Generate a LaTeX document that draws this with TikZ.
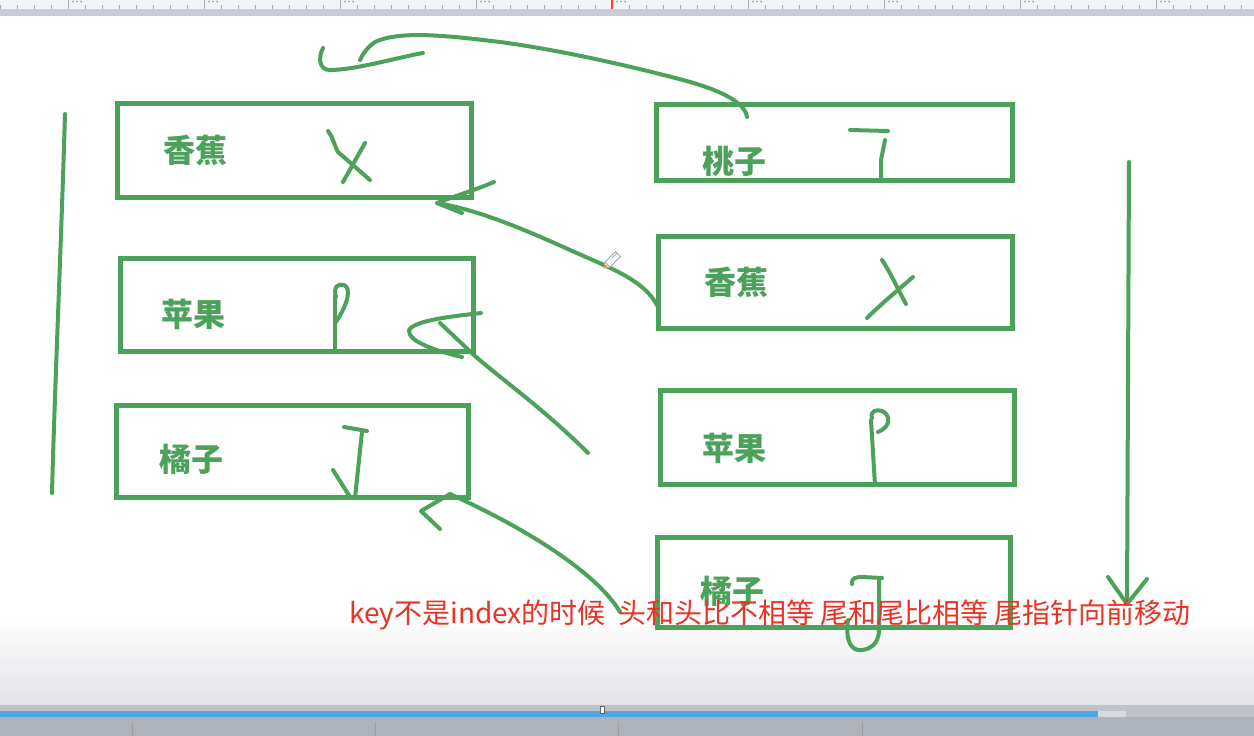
\documentclass[tikz,border=0pt]{standalone}
\usepackage{fontspec}
\newfontfamily\cjk{Noto Sans CJK SC}
\definecolor{pen}{RGB}{76,162,90}
\definecolor{redtxt}{RGB}{234,51,38}
\definecolor{rulerbg}{RGB}{243,244,248}
\definecolor{rulerband}{RGB}{201,205,216}
\definecolor{bargrey}{RGB}{190,195,202}
\definecolor{barblue}{RGB}{78,166,227}
\definecolor{barlight}{RGB}{214,218,223}
\definecolor{toolgrey}{RGB}{174,179,187}
\begin{document}
\begin{tikzpicture}[x=1pt,y=-1pt,
  box/.style={draw=pen,line width=5pt,inner sep=0pt,outer sep=0pt,rectangle},
  lbl/.style={text=pen,font=\cjk\bfseries\fontsize{32}{32}\selectfont,inner sep=0pt},
  ink/.style={draw=pen,line width=4pt,line cap=round,line join=round},
  note/.style={text=redtxt,font=\cjk\fontsize{28}{28}\selectfont,inner sep=0pt,anchor=west}]
\useasboundingbox (0,0) rectangle (1254,736);
\fill[white] (0,0) rectangle (1254,736);
% ruler
\fill[rulerbg] (0,0) rectangle (1254,9);
\fill[rulerband] (0,9) rectangle (1254,16);
\foreach \i in {0,...,73} \draw[gray!65,line width=0.7pt] ({\i*17},5) -- ({\i*17},9);
\foreach \i in {0,...,8} {
  \draw[gray!65,line width=0.7pt] ({68+\i*136},0) -- ({68+\i*136},9);
  \foreach \d in {5,9,13} \fill[gray!70] ({68+\i*136+\d},1.5) circle (1pt);
}
\draw[red!75,line width=1.3pt] (612,0) -- (612,9);
% bottom bars
\shade[top color=white,bottom color={rgb,255:red,226;green,227;blue,230}] (0,615) rectangle (1254,705);
\fill[bargrey] (0,705) rectangle (1254,711);
\fill[barblue] (0,711) rectangle (1098,717);
\fill[barlight] (1098,711) rectangle (1126,717);
\fill[bargrey] (1126,711) rectangle (1254,717);
\fill[toolgrey] (0,717) rectangle (1254,736);
\foreach \x in {132,375,618,862} \draw[gray!75,line width=0.6pt] (\x,722) -- (\x,736);
\draw[gray!80!black,fill=white,line width=0.6pt] (600,706) rectangle (604.5,713);
% boxes
\node[box,minimum width=354pt,minimum height=94pt] (l1) at (294,150) {};
\node[box,minimum width=353pt,minimum height=93pt] (l2) at (297,305) {};
\node[box,minimum width=352pt,minimum height=92pt] (l3) at (292.5,451.5) {};
\node[box,minimum width=356pt,minimum height=76pt] (r1) at (834.5,142.5) {};
\node[box,minimum width=354pt,minimum height=92pt] (r2) at (835.5,282.5) {};
\node[box,minimum width=354pt,minimum height=94pt] (r3) at (837.5,437.5) {};
\node[box,minimum width=353pt,minimum height=90pt] (r4) at (834,582.5) {};
% labels
\node[lbl] (t1) at (195.5,150) {香蕉};
\node[lbl] (t2) at (193.5,314) {苹果};
\node[lbl] (t3) at (191.5,459) {橘子};
\node[lbl] (t4) at (734.5,161) {桃子};
\node[lbl] (t5) at (736.5,282) {香蕉};
\node[lbl] (t6) at (734.5,448) {苹果};
\node[lbl] (t7) at (732,591) {橘子};
% handwritten marks in boxes
\draw[ink] (328,131) .. controls (333,137) and (334,145) .. (338,152) -- (370,180);
\draw[ink] (365,143) -- (343,182);
\draw[ink] (882,260) .. controls (892,275) and (898,290) .. (906,304);
\draw[ink] (913,277) .. controls (898,290) and (880,305) .. (867,318);
\draw[ink] (335,296) -- (335,352);
\draw[ink] (336,297) .. controls (333,287) and (338,283) .. (344,285) .. controls (351,288) and (349,302) .. (336,322);
\draw[ink] (871,420) -- (875,485);
\draw[ink] (872,418) .. controls (870,411) and (876,409) .. (882,411) .. controls (891,415) and (891,427) .. (878,432);
\draw[ink] (850,130) -- (888,131);
\draw[ink] (885,140) -- (881,160) -- (881,181);
\draw[ink] (344,427) -- (367,431);
\draw[ink] (362,432) -- (355,498);
\draw[ink] (333,470) -- (350,497);
\draw[ink] (852,584) .. controls (851,578) and (856,577) .. (862,577) -- (882,578);
\draw[ink] (879,580) -- (879,630) .. controls (879,645) and (868,651) .. (858,650) .. controls (848,648) and (846,635) .. (848,620);
% long strokes
\coordinate (lt) at (65,114);
\coordinate (lb) at (52,493);
\draw[ink] (lt) .. controls (61,250) and (55,380) .. (lb);
\coordinate (rt) at (1129,162);
\coordinate (rb) at (1127,604);
\draw[ink] (rt) -- (rb);
\draw[ink] (1108,577) -- (rb) -- (1147,579);
% top curved arrow from r1
\coordinate (a1s) at (747,117);
\coordinate (a1e) at (360,60);
\draw[ink] (a1s) .. controls (745,102) and (720,90) .. (683,80) .. controls (630,66) and (560,50) .. (500,42) .. controls (450,36) and (400,30) .. (375,42) .. controls (368,47) and (363,53) .. (a1e);
\draw[ink] (423,53) .. controls (395,58) and (355,70) .. (330,70) .. controls (319,70) and (318,58) .. (323,48);
% arrow from r2 to l1
\coordinate (a2s) at (658,307);
\coordinate (a2e) at (437,203);
\draw[ink] (a2s) .. controls (645,280) and (610,268) .. (570,250) .. controls (530,232) and (480,210) .. (a2e);
\draw[ink] (494,182) .. controls (475,190) and (455,196) .. (a2e) -- (462,213);
% arrow into l2 corner
\coordinate (a3s) at (588,453);
\coordinate (a3e) at (440,323);
\draw[ink] (a3s) .. controls (545,410) and (500,378) .. (475,356) -- (a3e);
\draw[ink] (481,313) .. controls (455,316) and (415,320) .. (409,330) .. controls (407,342) and (440,352) .. (462,357);
% arrow from r4 to l3
\coordinate (a4s) at (620,612);
\coordinate (a4e) at (450,494);
\draw[ink] (a4s) .. controls (600,578) and (540,535) .. (a4e);
\draw[ink] (440,529) -- (421,511) -- (a4e);
% pencil cursor
\draw[gray!70,fill=white,line width=0.8pt,line join=round] (604,268) -- (610,267) -- (620.5,256.5) -- (615.5,251.5) -- (605,262) -- cycle;
\draw[gray!70,line width=0.8pt] (605,262) -- (610,267) (617,253) -- (612,258);
\fill[orange!70!brown] (604,268) -- (605.8,264.5) -- (607.5,266.2) -- cycle;
% note
\node[note] (msg) at (349,615) {key不是index的时候\ \ 头和头比不相等 尾和尾比相等 尾指针向前移动};
\end{tikzpicture}
\end{document}
